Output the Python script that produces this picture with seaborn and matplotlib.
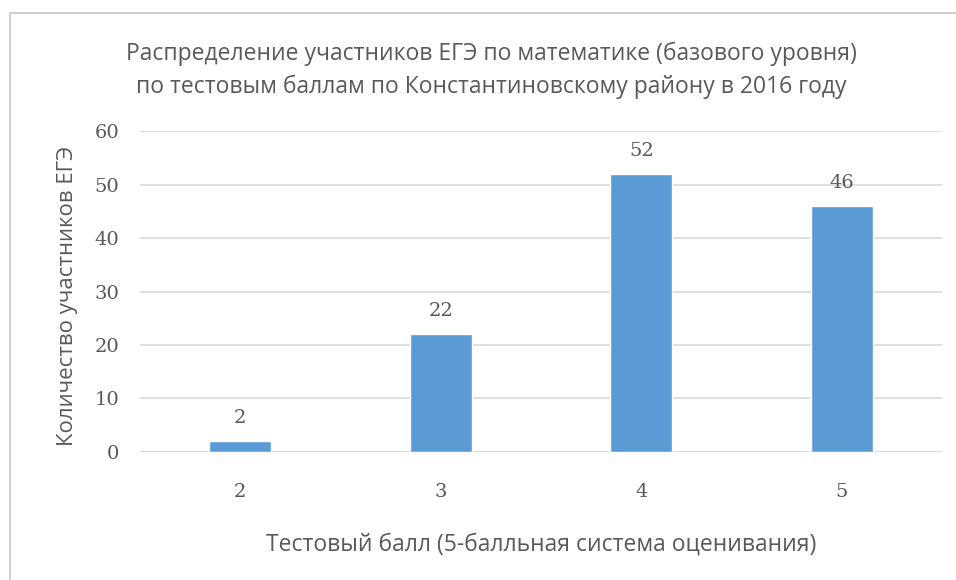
import matplotlib
matplotlib.use("Agg")
import matplotlib.pyplot as plt
import seaborn as sns
import pandas as pd
from matplotlib.lines import Line2D

# data
scores = ["2", "3", "4", "5"]
counts = [2, 22, 52, 46]
y_ticks = [0, 10, 20, 30, 40, 50, 60]

title = ("Распределение участников ЕГЭ по математике (базового уровня)\n"
         "по тестовым баллам по Константиновскому району в 2016 году")
x_label = "Тестовый балл (5-балльная система оценивания)"
y_label = "Количество участников ЕГЭ"

text_col = "#595959"
bar_col = "#5B9BD5"
grid_col = "#D9D9D9"

sns.set_style("white")
plt.rcParams["font.family"] = ["Open Sans", "DejaVu Sans"]

df = pd.DataFrame({"score": scores, "count": counts})

fig = plt.figure(figsize=(9.56, 5.80), dpi=100)
ax = fig.add_axes([0.1464, 0.2207, 0.839, 0.5534])

sns.barplot(data=df, x="score", y="count", color=bar_col, width=0.31,
            saturation=1, ax=ax, zorder=3)

ax.set_ylim(0, 60)
ax.set_xlim(-0.5, len(scores) - 0.5)
ax.set_yticks(y_ticks)
ax.yaxis.grid(True, color=grid_col, linewidth=1.2, zorder=0)
ax.xaxis.grid(False)
for s in ax.spines.values():
    s.set_visible(False)
ax.axhline(0, color=grid_col, linewidth=1.2, zorder=1)

num_font = ["DejaVu Serif"]
ax.tick_params(axis="both", length=0, colors=text_col)
ax.tick_params(axis="y", pad=15)
ax.tick_params(axis="x", pad=22)
for lab in ax.get_yticklabels() + ax.get_xticklabels():
    lab.set_fontfamily(num_font)
    lab.set_fontsize(14)

for i, v in enumerate(counts):
    ax.annotate(str(v), (i, v), xytext=(0, 10), textcoords="offset points",
                ha="center", va="bottom", fontsize=14, color=text_col,
                family=num_font)

ax.set_xlabel(x_label, fontsize=16.5, color=text_col, labelpad=23)
ax.set_ylabel(y_label, fontsize=16, color=text_col, labelpad=12)
ax.yaxis.label.set_y(0.486)

fig.text(0.5136, 0.879, title, ha="center", va="center", fontsize=16.5,
         color=text_col, linespacing=1.5)

# light chart-area frame (top and left edges visible in the reference)
fig.add_artist(Line2D([10 / 956, 1], [1 - 13 / 580, 1 - 13 / 580],
                      transform=fig.transFigure, color="#D0D0D0", linewidth=1.5))
fig.add_artist(Line2D([10 / 956, 10 / 956], [0, 1 - 13 / 580],
                      transform=fig.transFigure, color="#D0D0D0", linewidth=1.5))

fig.savefig("out.png", dpi=100)
plt.close(fig)
